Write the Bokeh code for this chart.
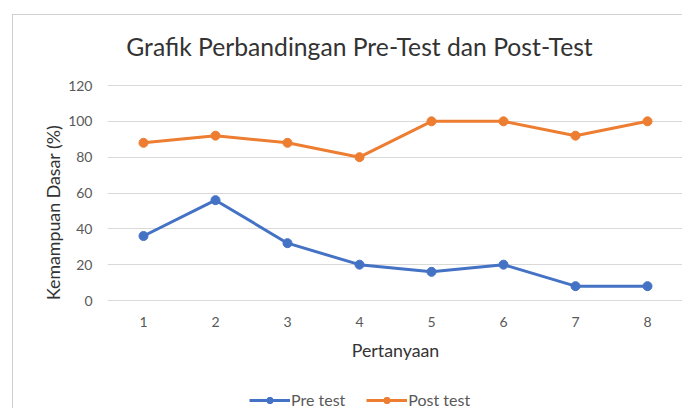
from bokeh.plotting import figure
from bokeh.models import Range1d, FixedTicker, Legend, LegendItem, Label
from bokeh.embed import file_html
from bokeh.resources import INLINE

# ---- data ----
questions = [1, 2, 3, 4, 5, 6, 7, 8]
pre_test = [36, 56, 32, 20, 16, 20, 8, 8]
post_test = [88, 92, 88, 80, 100, 100, 92, 100]
y_ticks = [0, 20, 40, 60, 80, 100, 120]
series_names = ["Pre test", "Post test"]
title_text = "Grafik Perbandingan Pre-Test dan Post-Test"
x_title = "Pertanyaan"
y_title = "Kemampuan Dasar (%)"

FONT = "Lato"
BLUE = "#4472C4"
ORANGE = "#ED7D31"
GRID = "#D9D9D9"
TICK = "#595959"

# ---- geometry ----
W, H = 670, 394
TOP = 70                 # pixels above the 0..120 value area
VALUE_AREA_PX = 215      # height of the 0..120 value area
y_max = y_ticks[-1]
units_per_px = y_max / VALUE_AREA_PX
# the frame covers the whole canvas height so that the title, tick labels,
# axis title and legend sit inside it (annotations are clipped to the frame)
y_top = y_max + TOP * units_per_px
y_min = y_max - (H - TOP) * units_per_px

p = figure(width=W, height=H, output_backend="svg", toolbar_location=None,
           x_range=Range1d(0.5, 8.5), y_range=Range1d(y_min, y_top),
           min_border_left=94, min_border_right=0,
           min_border_top=0, min_border_bottom=0)
p.margin = (14, 0, 0, 12)
p.styles = {"border-top": "1px solid #D0D0D0", "border-left": "1px solid #D0D0D0"}
p.outline_line_color = None
p.background_fill_color = "white"
p.border_fill_color = "white"

p.xgrid.grid_line_color = None
p.ygrid.grid_line_color = GRID
p.ygrid.grid_line_width = 1

p.yaxis.ticker = FixedTicker(ticks=y_ticks)
p.yaxis.bounds = (y_ticks[0], y_ticks[-1])
p.xaxis.ticker = FixedTicker(ticks=questions)
p.xaxis.fixed_location = 0
for ax in (p.xaxis, p.yaxis):
    ax.axis_line_color = None
    ax.major_tick_line_color = None
    ax.minor_tick_line_color = None
    ax.major_tick_out = 0
    ax.major_tick_in = 0
    ax.major_label_text_font = FONT
    ax.major_label_text_font_size = "14px"
    ax.major_label_text_color = TICK
    ax.axis_label_text_font = FONT
    ax.axis_label_text_font_size = "17.8px"
    ax.axis_label_text_font_style = "normal"
    ax.axis_label_text_color = "#333333"
p.yaxis.major_label_standoff = 15
p.xaxis.major_label_standoff = 16
p.xaxis.axis_label = x_title
p.yaxis.axis_label = y_title
p.xaxis.axis_label_standoff = 9
p.yaxis.axis_label_standoff = 1

l1 = p.line(questions, pre_test, line_width=3, color=BLUE)
s1 = p.scatter(questions, pre_test, size=9, color=BLUE)
l2 = p.line(questions, post_test, line_width=3, color=ORANGE)
s2 = p.scatter(questions, post_test, size=9, color=ORANGE)

# chart title: centred about 39 px above the top of the value area
p.add_layout(Label(x=4.0, y=y_max + 39.5 * units_per_px, text=title_text,
                   text_align="center", text_baseline="middle",
                   text_font=FONT, text_font_size="24.7px",
                   text_color="#333333"))

legend = Legend(items=[LegendItem(label=series_names[0], renderers=[l1, s1]),
                       LegendItem(label=series_names[1], renderers=[l2, s2])],
                orientation="horizontal", location=(142, 0),
                glyph_width=41, glyph_height=16, label_height=16,
                label_standoff=1, spacing=21, padding=0, margin=0,
                border_line_color=None, background_fill_alpha=0,
                label_text_font=FONT, label_text_font_size="16px",
                label_text_color=TICK)
p.add_layout(legend)

open("out.html", "w").write(file_html(p, INLINE))
